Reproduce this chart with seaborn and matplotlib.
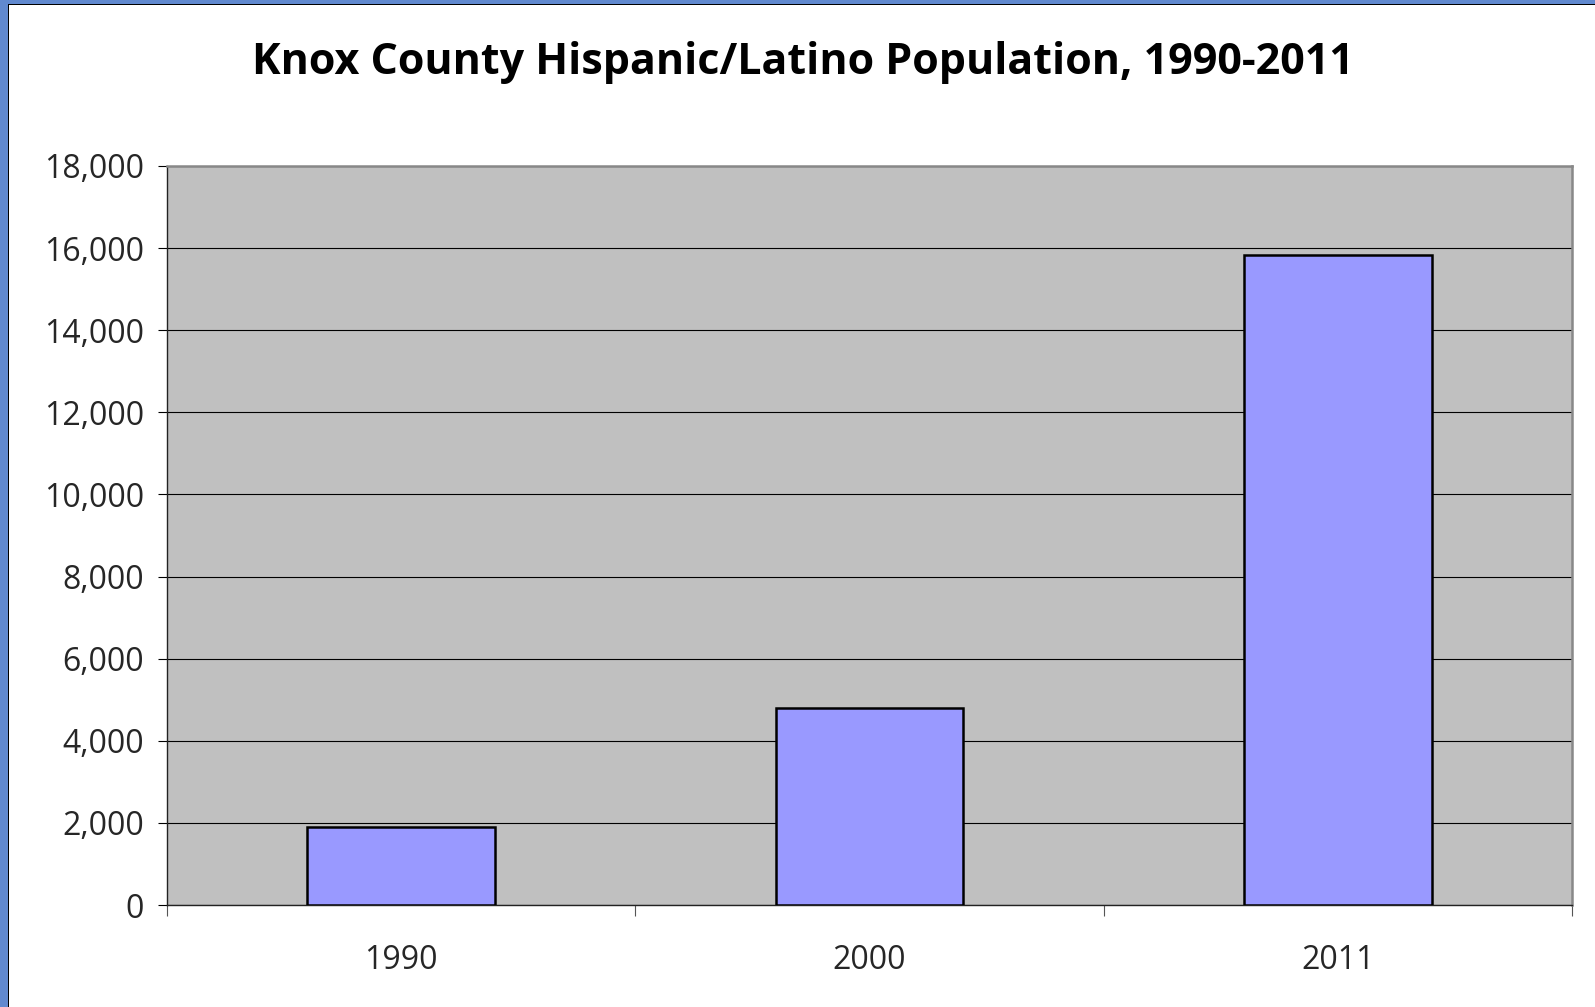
import matplotlib
matplotlib.use("Agg")
import matplotlib.pyplot as plt
import seaborn as sns
import pandas as pd
from matplotlib.patches import Rectangle
from matplotlib.ticker import FuncFormatter, FixedLocator

years = ["1990", "2000", "2011"]
population = [1900, 4810, 15830]
title = "Knox County Hispanic/Latino Population, 1990-2011"

sns.set_theme(style="white")
plt.rcParams['font.family'] = ['Open Sans', 'DejaVu Sans']

df = pd.DataFrame({"year": years, "pop": population})

fig = plt.figure(figsize=(15.95, 10.07), dpi=100)
fig.patch.set_facecolor("white")
W, H = 1595, 1007
ax = fig.add_axes([167 / W, 1 - 905 / H, (1572 - 167) / W, (905 - 166) / H])
ax.set_facecolor("#C0C0C0")

sns.barplot(data=df, x="year", y="pop", ax=ax, width=0.4, color="#9999FF",
            saturation=1, edgecolor="black", linewidth=1.8, zorder=3)

ax.set_ylim(0, 18000)
ax.set_xlim(-0.5, 2.5)
ax.set_yticks(range(0, 18001, 2000))
ax.yaxis.set_major_formatter(FuncFormatter(lambda v, p: f"{int(v):,}"))
ax.grid(axis="y", color="black", linewidth=0.8, zorder=1)
ax.set_axisbelow(True)
ax.set_xlabel("")
ax.set_ylabel("")

ax.tick_params(axis="y", which="major", direction="out", length=6.5, width=0.8,
               color="black", labelsize=23, pad=10, left=True)
ax.tick_params(axis="x", which="major", length=0, labelsize=23, pad=28)
ax.xaxis.set_minor_locator(FixedLocator([-0.5, 0.5, 1.5, 2.5]))
ax.tick_params(axis="x", which="minor", direction="out", length=8, width=0.8,
               color="#555555", bottom=True)

for s in ["left", "bottom"]:
    ax.spines[s].set_color("#222222")
    ax.spines[s].set_linewidth(1.0)
for s in ["top", "right"]:
    ax.spines[s].set_color("#888888")
    ax.spines[s].set_linewidth(1.8)

fig.text(803 / W, 1 - 63 / H, title, ha="center", va="center",
         fontsize=31, fontweight="bold", color="black")

# frame decoration: blue strips on left and top with thin black inner line
fig.patches.append(Rectangle((0, 0), 8 / W, 1, transform=fig.transFigure,
                             facecolor="#6189CF", edgecolor="none", zorder=10))
fig.patches.append(Rectangle((0, 1 - 4 / H), 1, 4 / H, transform=fig.transFigure,
                             facecolor="#6189CF", edgecolor="none", zorder=10))
fig.patches.append(Rectangle((8 / W, 0), 1.2 / W, 1 - 4 / H, transform=fig.transFigure,
                             facecolor="black", edgecolor="none", zorder=11))
fig.patches.append(Rectangle((8 / W, 1 - 5.2 / H), 1 - 8 / W, 1.2 / H, transform=fig.transFigure,
                             facecolor="black", edgecolor="none", zorder=11))

fig.savefig("out.png", dpi=100)
